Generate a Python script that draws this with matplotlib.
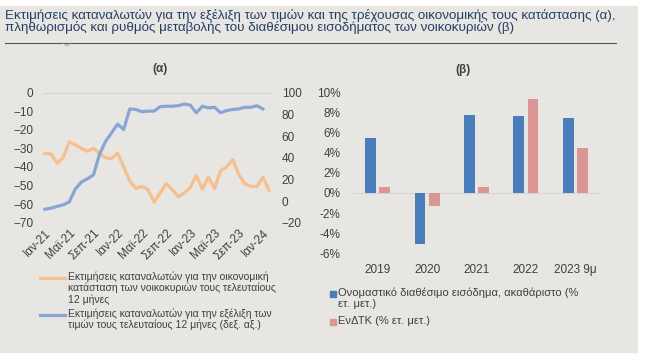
import numpy as np
import matplotlib.pyplot as plt
from matplotlib.lines import Line2D
from matplotlib.patches import Rectangle

plt.rcParams['font.family'] = ['Liberation Sans', 'DejaVu Sans']

# (α) monthly, Jan-21 onwards
households = [-32.7, -33, -38, -35, -26.5, -28, -30, -31.5, -30, -32.5, -35, -35.5,
              -32.5, -40, -47.5, -51.5, -50.5, -52, -59, -54, -49, -52, -56, -54,
              -51, -44.5, -52, -45.5, -51.5, -42, -40, -36, -44, -49, -50.5, -50.5,
              -45.5, -52.5]
prices = [-7.6, -6.5, -5, -3.5, -1, 11, 17.5, 20.5, 24, 43, 55, 63,
          71, 66, 85, 84.5, 82.5, 83, 83, 87, 87.5, 87.5, 88, 89.5,
          88.5, 81.5, 87.5, 86, 86.5, 81.5, 83.5, 84.5, 85, 86.5, 86.5, 88,
          85]
month_labels = ["Ιαν-21", "Μαϊ-21", "Σεπ-21", "Ιαν-22", "Μαϊ-22", "Σεπ-22",
                "Ιαν-23", "Μαϊ-23", "Σεπ-23", "Ιαν-24"]

# (β) yearly
years = ["2019", "2020", "2021", "2022", "2023 9μ"]
income = [5.5, -5.05, 7.7, 7.6, 7.4]
hicp = [0.55, -1.25, 0.55, 9.35, 4.45]

W, H = 647, 360
BG = '#E7E6E2'
TXT = '#3F3F3F'
ORANGE = '#F7BE8E'
BLUE_L = '#89A5D6'
BLUE_B = '#4A7EBB'
PINK = '#D99695'


def fx(x):
    return x / W


def fy(y):
    return 1 - y / H


fig = plt.figure(figsize=(W / 100, H / 100), dpi=100)
fig.patch.set_facecolor('white')
fig.patches.append(Rectangle((0, fy(352)), fx(637), (352 - 6) / H,
                             transform=fig.transFigure, color=BG, zorder=-10))

# header
fig.text(fx(5), fy(15), "Εκτιμήσεις καταναλωτών για την εξέλιξη των τιμών και της τρέχουσας "
         "οικονομικής τους κατάστασης (α),", fontsize=9.65, color='#243F66', va='center')
fig.text(fx(5), fy(28), "πληθωρισμός και ρυθμός μεταβολής του διαθέσιμου εισοδήματος "
         "των νοικοκυριών (β)", fontsize=9.65, color='#243F66', va='center')
fig.add_artist(Line2D([fx(5), fx(616)], [fy(43), fy(43)], transform=fig.transFigure,
                      color='#555555', lw=0.8))
fig.add_artist(Line2D([fx(63), fx(67), fx(71)], [fy(43), fy(46), fy(43)],
                      transform=fig.transFigure, color='#999999', lw=0.6))

# (α)
ax1 = fig.add_axes([fx(43), fy(222.7), (272 - 43) / W, 130 / H])
ax1.set_facecolor('none')
ax1.plot(np.arange(len(households)), households, color=ORANGE, lw=2.3)
ax1.axhline(0, color='#D5D5D5', lw=0.8)
ax1.set_ylim(-70, 0)
ax1.set_yticks(range(-70, 1, 10))
ax1.set_xlim(-0.33, 37.5)
ax1.set_xticks(range(0, 37, 4))
ax1.set_xticklabels(month_labels, rotation=45, ha='right', rotation_mode='anchor')
ax1.tick_params(axis='y', length=0, pad=7, labelsize=8.5, labelcolor=TXT)
ax1.tick_params(axis='x', length=0, pad=3, labelsize=8.5, labelcolor=TXT)
for s in ax1.spines.values():
    s.set_visible(False)

ax2 = ax1.twinx()
ax2.plot(np.arange(len(prices)), prices, color=BLUE_L, lw=2.3)
ax2.set_ylim(-20, 100)
ax2.set_yticks(range(-20, 101, 20))
ax2.tick_params(axis='y', length=0, pad=7, labelsize=8.5, labelcolor=TXT)
for s in ax2.spines.values():
    s.set_visible(False)

fig.text(fx(160), fy(69), "(α)", fontsize=8.5, fontweight='bold', color=TXT,
         ha='center', va='center')

# legend (α)
fig.add_artist(Line2D([fx(40), fx(65)], [fy(278), fy(278)], transform=fig.transFigure,
                      color=ORANGE, lw=2.3))
fig.text(fx(68), fy(271), "Εκτιμήσεις καταναλωτών για την οικονομική\n"
         "κατάσταση των νοικοκυριών τους τελευταίους\n12 μήνες",
         fontsize=7.5, color=TXT, va='top', linespacing=1.15)
fig.add_artist(Line2D([fx(40), fx(65)], [fy(315), fy(315)], transform=fig.transFigure,
                      color=BLUE_L, lw=2.3))
fig.text(fx(68), fy(308), "Εκτιμήσεις καταναλωτών για την εξέλιξη των\n"
         "τιμών τους τελευταίους 12 μήνες (δεξ. αξ.)",
         fontsize=7.5, color=TXT, va='top', linespacing=1.15)

# (β)
ax3 = fig.add_axes([fx(353), fy(253.3), 247 / W, 161 / H])
ax3.set_facecolor('none')
x = np.arange(len(years))
ax3.bar(x - 0.145, income, width=0.22, color=BLUE_B)
ax3.bar(x + 0.145, hicp, width=0.22, color=PINK)
ax3.axhline(0, color='#D5D5D5', lw=0.8, zorder=0)
ax3.set_xlim(-0.5, 4.5)
ax3.set_ylim(-6, 10)
ax3.set_yticks(range(-6, 11, 2))
ax3.set_yticklabels([f"{v}%" for v in range(-6, 11, 2)])
ax3.set_xticks(x)
ax3.set_xticklabels(years)
ax3.tick_params(axis='y', length=0, pad=9, labelsize=8.5, labelcolor=TXT)
ax3.tick_params(axis='x', length=0, pad=8, labelsize=8.5, labelcolor=TXT)
for s in ax3.spines.values():
    s.set_visible(False)

fig.text(fx(463), fy(70), "(β)", fontsize=8.5, fontweight='bold', color=TXT,
         ha='center', va='center')

# legend (β)
fig.add_artist(Line2D([fx(333)], [fy(294)], transform=fig.transFigure, marker='s',
                      markersize=4, color=BLUE_B, lw=0))
fig.text(fx(338), fy(288), "Ονομαστικό διαθέσιμο εισόδημα, ακαθάριστο (%\nετ. μετ.)",
         fontsize=8, color=TXT, va='top', linespacing=1.1)
fig.add_artist(Line2D([fx(333)], [fy(322)], transform=fig.transFigure, marker='s',
                      markersize=4, color=PINK, lw=0))
fig.text(fx(338), fy(316), "ΕνΔΤΚ (% ετ. μετ.)", fontsize=8, color=TXT, va='top')

fig.savefig("out.png", dpi=100)
